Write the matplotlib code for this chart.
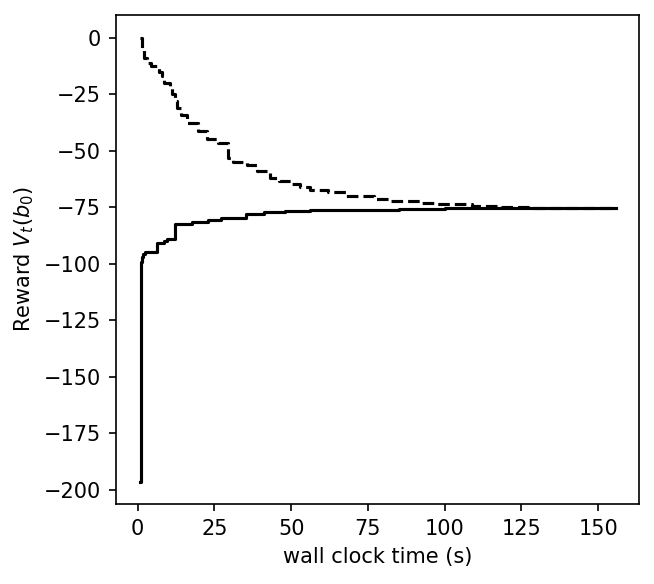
import matplotlib
matplotlib.use("Agg")
import matplotlib.pyplot as plt

# Upper bound (dashed) step data
upper_t = [0.8, 1.5, 2.2, 3.0, 4.2, 6.8, 8.0, 8.6, 10.5, 11.2, 12.0, 12.8, 14.0, 16.0,
           19.5, 22.5, 26.0, 29.3, 31.0, 35.5, 39.0, 43.0, 46.0, 50.0, 53.0, 56.0, 62.0,
           68.0, 77.0, 82.5, 92.0, 97.0, 109.0, 118.0, 128.0, 140.0, 155.7]
upper_v = [0.0, -5.0, -9.0, -11.0, -12.5, -15.0, -17.0, -20.0, -22.0, -25.0, -28.0, -31.0, -34.0, -37.8,
           -41.0, -44.6, -46.5, -53.0, -55.0, -56.4, -58.9, -62.0, -63.4, -64.8, -65.8, -67.2, -68.3,
           -69.9, -71.2, -72.3, -72.9, -73.7, -74.4, -74.9, -75.2, -75.4, -75.4]

# Lower bound (solid) step data
lower_t = [0.8, 1.0, 1.3, 1.7, 2.3, 6.3, 8.5, 9.5, 12.1, 17.8, 22.8, 27.1,
           35.3, 41.0, 48.0, 56.0, 70.0, 85.0, 100.0, 155.7]
lower_v = [-196.5, -99.0, -97.0, -95.8, -94.8, -90.8, -90.0, -88.8, -82.4, -81.6, -80.8, -79.7,
           -77.8, -77.2, -76.7, -76.3, -76.0, -75.7, -75.5, -75.4]

fig = plt.figure(figsize=(655 / 150, 584 / 150), dpi=150)
ax = fig.add_axes([115.7 / 655, 1 - 504 / 584, (639 - 115.7) / 655, (504 - 15) / 584])

ax.step(upper_t, upper_v, where="post", color="black", linestyle="--", linewidth=1.5)
ax.step(lower_t, lower_v, where="post", color="black", linestyle="-", linewidth=1.5)

ax.set_xlim(-7.17, 163.3)
ax.set_ylim(-206.4, 10.2)
ax.set_xlabel("wall clock time (s)")
ax.set_ylabel("Reward $V_t(b_0)$")
ax.set_xticks([0, 25, 50, 75, 100, 125, 150])
ax.set_yticks([0, -25, -50, -75, -100, -125, -150, -175, -200])

fig.savefig("out.png", dpi=150)
